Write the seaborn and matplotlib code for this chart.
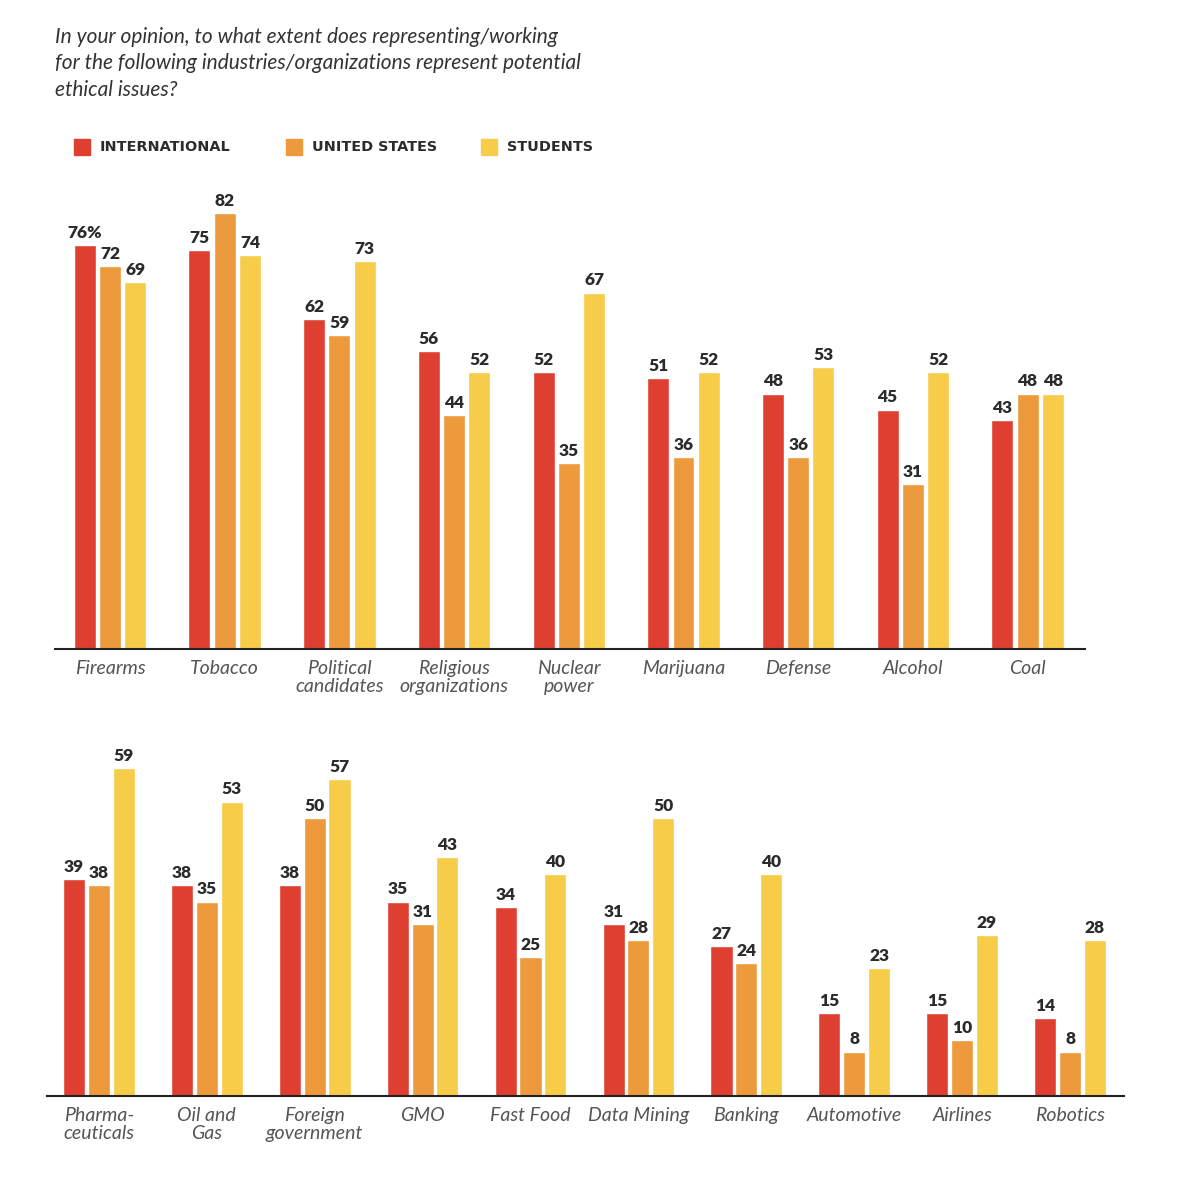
import pandas as pd
import matplotlib.pyplot as plt
import seaborn as sns
from matplotlib.patches import Rectangle

groups = ['International', 'United States', 'Students']
colors = ['#de3f30', '#ec9a3b', '#f7cc48']

top_cats = ['Firearms', 'Tobacco', 'Political\ncandidates', 'Religious\norganizations',
            'Nuclear\npower', 'Marijuana', 'Defense', 'Alcohol', 'Coal']
top_intl = [76, 75, 62, 56, 52, 51, 48, 45, 43]
top_us = [72, 82, 59, 44, 35, 36, 36, 31, 48]
top_students = [69, 74, 73, 52, 67, 52, 53, 52, 48]

bot_cats = ['Pharma-\nceuticals', 'Oil and\nGas', 'Foreign\ngovernment', 'GMO', 'Fast Food',
            'Data Mining', 'Banking', 'Automotive', 'Airlines', 'Robotics']
bot_intl = [39, 38, 38, 35, 34, 31, 27, 15, 15, 14]
bot_us = [38, 35, 50, 31, 25, 28, 24, 8, 10, 8]
bot_students = [59, 53, 57, 43, 40, 50, 40, 23, 29, 28]

title = ('In your opinion, to what extent does representing/working\n'
         'for the following industries/organizations represent potential\n'
         'ethical issues?')


def make_df(cats, a, b, c):
    rows = []
    for vals, g in zip([a, b, c], groups):
        for cat, v in zip(cats, vals):
            rows.append({'cat': cat, 'group': g, 'value': v})
    return pd.DataFrame(rows)


sns.set_style('white')
plt.rcParams['font.family'] = ['Lato', 'DejaVu Sans']

fig = plt.figure(figsize=(12, 11.88), dpi=100)
ax1 = fig.add_axes([0.0458, 0.4537, 0.8583, 0.403])
ax2 = fig.add_axes([0.0392, 0.0774, 0.8975, 0.304])


def draw(ax, cats, a, b, c, ymax, width, gap, first_pct=False):
    df = make_df(cats, a, b, c)
    sns.barplot(data=df, x='cat', y='value', hue='group', hue_order=groups,
                order=cats, palette=colors, width=width, gap=gap,
                saturation=1, legend=False, ax=ax)
    for i, cont in enumerate(ax.containers):
        labels = [str(int(v)) for v in cont.datavalues]
        if first_pct and i == 0:
            labels[0] = labels[0] + '%'
        ax.bar_label(cont, labels=labels, padding=3, fontsize=12.5,
                     fontweight='heavy', color='#2b2b2b')
    ax.set_ylim(0, ymax)
    ax.set_xlim(-0.48, len(cats) - 0.5)
    ax.set_xlabel('')
    ax.set_ylabel('')
    ax.set_yticks([])
    ax.tick_params(axis='x', length=0, pad=8)
    for lab in ax.get_xticklabels():
        lab.set_fontstyle('italic')
        lab.set_fontsize(14)
        lab.set_color('#555555')
        lab.set_linespacing(1.05)
    for s in ['top', 'right', 'left']:
        ax.spines[s].set_visible(False)
    ax.spines['bottom'].set_color('#222222')
    ax.spines['bottom'].set_linewidth(1.5)


draw(ax1, top_cats, top_intl, top_us, top_students, 90, 0.66, 0.13, first_pct=True)
draw(ax2, bot_cats, bot_intl, bot_us, bot_students, 65, 0.69, 0.11)

fig.text(0.046, 1 - 27 / 1188, title, ha='left', va='top', fontsize=15,
         fontstyle='italic', color='#333333', linespacing=1.4)

legend_x = [74, 286, 481]
for xpx, g, col in zip(legend_x, groups, colors):
    fig.patches.append(Rectangle((xpx / 1200, 1 - 155 / 1188), 16 / 1200, 16 / 1188,
                                 transform=fig.transFigure, color=col, figure=fig))
    fig.text((xpx + 26) / 1200, 1 - 147 / 1188, g.upper(), ha='left', va='center',
             fontsize=10.4, fontweight='bold', color='#2b2b2b', family='DejaVu Sans')

fig.savefig('out.png', dpi=100)
